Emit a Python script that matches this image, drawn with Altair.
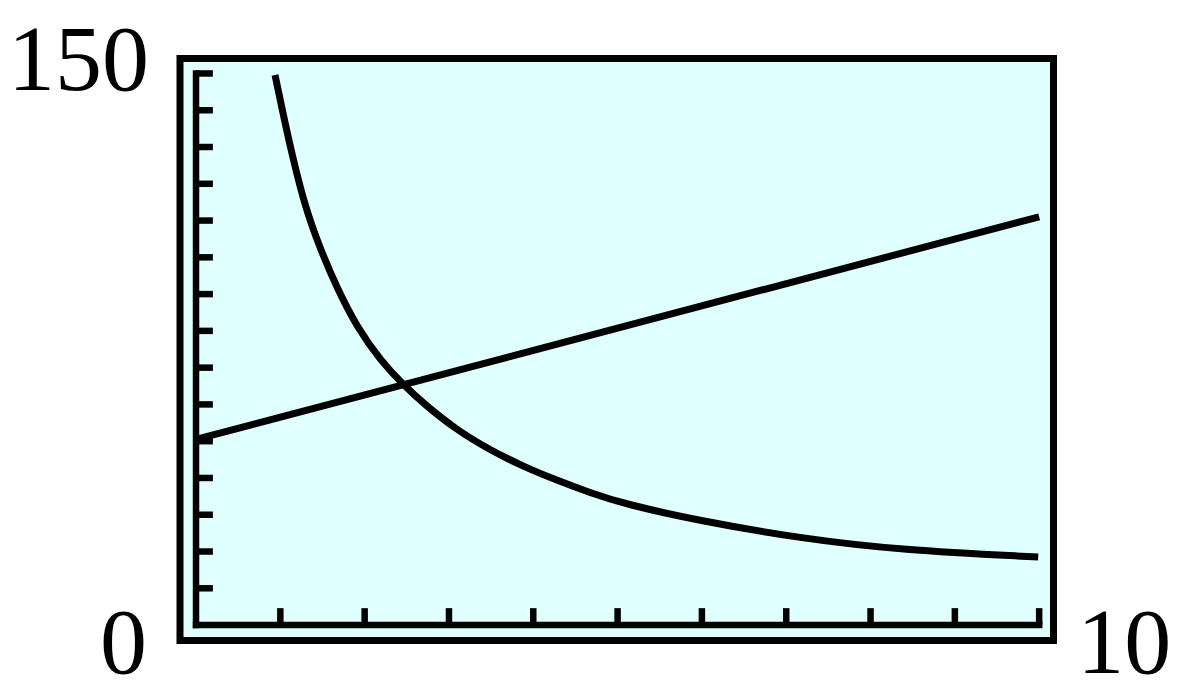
import altair as alt
import pandas as pd

# decreasing curve
curve_x = [0.937, 1.056, 1.154, 1.293, 1.471, 1.669, 1.906, 2.183, 2.459, 2.696,
           3.093, 3.488, 3.883, 4.279, 4.674, 5.069, 5.98, 7.165, 8.351, 9.988]
curve_y = [149.6, 136.5, 126.5, 113.8, 102.4, 91.8, 81.1, 72.1, 65.3, 60.3,
           53.0, 47.6, 43.1, 39.4, 36.0, 33.0, 28.3, 23.6, 20.4, 18.5]

# straight line
line_x = [0, 10]
line_y = [50.5, 111]

# tick positions
x_ticks = [1, 2, 3, 4, 5, 6, 7, 8, 9, 10]
y_ticks = [10, 20, 30, 40, 50, 60, 70, 80, 90, 100, 110, 120, 130, 140, 150]

X_MIN, X_MAX = 0, 10
Y_MIN, Y_MAX = 0, 150

xs = alt.Scale(domain=[-0.19, 10.17], nice=False, zero=False)
ys = alt.Scale(domain=[-4.2, 154.07], nice=False, zero=False)

curve_df = pd.DataFrame({"x": curve_x, "y": curve_y})
line_df = pd.DataFrame({"x": line_x, "y": line_y})
xt_df = pd.DataFrame({"x": x_ticks, "y0": [0] * len(x_ticks), "y1": [4.6] * len(x_ticks)})
yt_df = pd.DataFrame({"y": y_ticks, "x0": [0] * len(y_ticks), "x1": [0.2] * len(y_ticks)})
axes_df = pd.DataFrame({"x0": [X_MIN, X_MIN], "x1": [X_MAX, X_MIN],
                        "y0": [Y_MIN, Y_MIN], "y1": [Y_MIN, Y_MAX]})

W = 6.5

axes = alt.Chart(axes_df).mark_rule(color="black", strokeWidth=W, strokeCap="square").encode(
    x=alt.X("x0:Q", scale=xs, axis=None), x2="x1:Q",
    y=alt.Y("y0:Q", scale=ys, axis=None), y2="y1:Q")

xt = alt.Chart(xt_df).mark_rule(color="black", strokeWidth=W).encode(
    x=alt.X("x:Q", scale=xs, axis=None),
    y=alt.Y("y0:Q", scale=ys, axis=None), y2="y1:Q")

yt = alt.Chart(yt_df).mark_rule(color="black", strokeWidth=W).encode(
    x=alt.X("x0:Q", scale=xs, axis=None), x2="x1:Q",
    y=alt.Y("y:Q", scale=ys, axis=None))

curve = alt.Chart(curve_df).mark_line(color="black", strokeWidth=7, interpolate="basis").encode(
    x=alt.X("x:Q", scale=xs, axis=None), y=alt.Y("y:Q", scale=ys, axis=None))

line = alt.Chart(line_df).mark_line(color="black", strokeWidth=7).encode(
    x=alt.X("x:Q", scale=xs, axis=None), y=alt.Y("y:Q", scale=ys, axis=None))

font = dict(font="Liberation Serif", fontSize=94, color="black", baseline="alphabetic")

lab150 = alt.Chart(pd.DataFrame({"x": [X_MIN], "y": [Y_MAX], "t": [str(Y_MAX)]})).mark_text(
    align="right", dx=-47, dy=16.5, **font).encode(
    x=alt.X("x:Q", scale=xs, axis=None), y=alt.Y("y:Q", scale=ys, axis=None), text="t:N")

lab0 = alt.Chart(pd.DataFrame({"x": [X_MIN], "y": [Y_MIN], "t": [str(Y_MIN)]})).mark_text(
    align="right", dx=-49, dy=48, **font).encode(
    x=alt.X("x:Q", scale=xs, axis=None), y=alt.Y("y:Q", scale=ys, axis=None), text="t:N")

lab10 = alt.Chart(pd.DataFrame({"x": [X_MAX], "y": [Y_MIN], "t": [str(X_MAX)]})).mark_text(
    align="left", dx=38, dy=48, **font).encode(
    x=alt.X("x:Q", scale=xs, axis=None), y=alt.Y("y:Q", scale=ys, axis=None), text="t:N")

chart = alt.layer(axes, xt, yt, line, curve, lab150, lab0, lab10).properties(
    width=873.5, height=582,
    autosize=alt.AutoSizeParams(type="none"),
    padding={"left": 172, "top": 50.5, "right": 138, "bottom": 45},
    background="white",
).configure_view(fill="#E0FFFF", stroke="black", strokeWidth=7)

chart.save("out.html", embed_options={"renderer": "svg", "actions": False})
